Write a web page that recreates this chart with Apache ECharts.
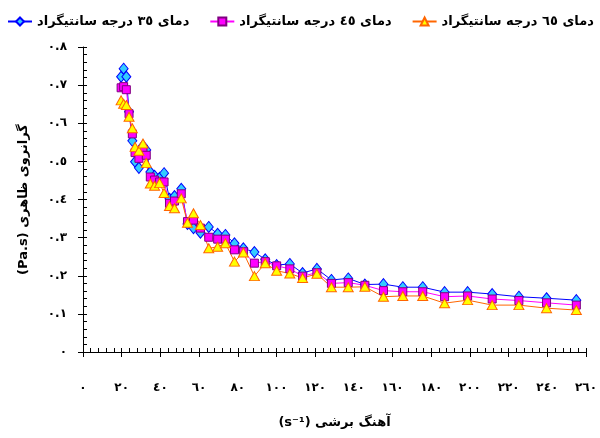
<!DOCTYPE html>
<html>
<head>
<meta charset="utf-8">
<script src="https://cdn.jsdelivr.net/npm/echarts@6/dist/echarts.min.js"></script>
<style>
  html, body { margin: 0; padding: 0; background: #fff; }
  #chart { width: 600px; height: 438px; }
</style>
</head>
<body>
<div id="chart"></div>
<script>
// shear rate (s^-1)
const shearRate = [19.7, 21.0, 22.4, 23.8, 25.5, 26.9, 28.9, 31.0, 32.7, 34.8,
  37.0, 39.6, 41.9, 44.7, 47.3, 50.8, 54.0, 57.1, 60.7, 65.0,
  69.6, 73.6, 78.3, 82.9, 88.6, 94.2, 100.1, 106.9, 113.5, 120.9,
  128.4, 137.1, 145.7, 155.3, 165.3, 175.6, 186.9, 198.8, 211.5, 225.3,
  239.6, 255.0]

// apparent viscosity (Pa.s)
const visc35 = [0.722, 0.743, 0.722, 0.630, 0.554, 0.499, 0.483, 0.541, 0.530, 0.472,
  0.462, 0.457, 0.469, 0.402, 0.409, 0.428, 0.336, 0.325, 0.313, 0.328,
  0.310, 0.307, 0.285, 0.272, 0.262, 0.243, 0.228, 0.231, 0.207, 0.218,
  0.189, 0.193, 0.177, 0.178, 0.170, 0.170, 0.157, 0.157, 0.152, 0.145,
  0.141, 0.136]
const visc45 = [0.693, 0.696, 0.688, 0.625, 0.572, 0.523, 0.508, 0.530, 0.516, 0.459,
  0.451, 0.446, 0.446, 0.390, 0.396, 0.415, 0.342, 0.346, 0.325, 0.301,
  0.296, 0.296, 0.268, 0.263, 0.233, 0.237, 0.226, 0.218, 0.199, 0.208,
  0.180, 0.182, 0.175, 0.161, 0.158, 0.158, 0.145, 0.147, 0.139, 0.135,
  0.129, 0.123]
const visc65 = [0.660, 0.651, 0.648, 0.617, 0.587, 0.538, 0.528, 0.547, 0.496, 0.442,
  0.436, 0.443, 0.417, 0.383, 0.377, 0.403, 0.339, 0.364, 0.333, 0.272,
  0.276, 0.285, 0.237, 0.261, 0.199, 0.233, 0.213, 0.206, 0.194, 0.205,
  0.170, 0.170, 0.171, 0.145, 0.147, 0.147, 0.128, 0.136, 0.123, 0.123,
  0.115, 0.110]

const seriesNames = [
  'دمای ٣٥ درجه سانتیگراد',
  'دمای ٤٥ درجه سانتیگراد',
  'دمای ٦٥ درجه سانتیگراد'
]

const FONT = 'DejaVu Sans'
const AR_DIGITS = '٠١٢٣٤٥٦٧٨٩'

// latin digits -> arabic-indic digits
function arDigits (s) {
  return String(s).replace(/[0-9]/g, d => AR_DIGITS[+d])
}

function pairs (ys) {
  return shearRate.map((x, i) => [x, ys[i]])
}

const chart = echarts.init(document.getElementById('chart'))

const labelStyle = { fontFamily: FONT, fontWeight: 'bold', fontSize: 12, color: '#000' }

const option = {
  animation: false,
  backgroundColor: '#fff',
  legend: {
    top: 10,
    left: 2,
    itemWidth: 24,
    itemHeight: 10,
    itemGap: 20,
    textStyle: { ...labelStyle, fontSize: 13 },
    data: seriesNames
  },
  grid: { left: 83, right: 13, top: 47, bottom: 86 },
  xAxis: [
    {
      type: 'value',
      min: 0,
      max: 260,
      interval: 20,
      name: '(s⁻¹) آهنگ برشی',
      nameLocation: 'middle',
      nameGap: 64,
      nameTextStyle: { fontFamily: FONT, fontWeight: 'bold', fontSize: 13, color: '#000' },
      axisLine: { lineStyle: { color: '#000', width: 1 } },
      axisTick: { inside: true, length: 4, lineStyle: { color: '#000' } },
      minorTick: { show: true, splitNumber: 5, length: 4, lineStyle: { color: '#000' } },
      splitLine: { show: false },
      axisLabel: { margin: 30, ...labelStyle, fontSize: 12, formatter: v => arDigits(v) }
    },
    {
      // outer half of the major ticks
      type: 'value',
      position: 'bottom',
      min: 0,
      max: 260,
      interval: 20,
      axisLine: { show: false },
      axisTick: { inside: false, length: 5, lineStyle: { color: '#000' } },
      axisLabel: { show: false },
      splitLine: { show: false }
    }
  ],
  yAxis: [
    {
      type: 'value',
      min: 0,
      max: 0.8,
      interval: 0.1,
      name: '(Pa.s) گرانروی ظاهری',
      nameLocation: 'middle',
      nameGap: 53,
      nameRotate: 90,
      nameTextStyle: { fontFamily: FONT, fontWeight: 'bold', fontSize: 13, color: '#000' },
      axisLine: { show: true, lineStyle: { color: '#000', width: 1 } },
      axisTick: { show: true, inside: true, length: 4, lineStyle: { color: '#000' } },
      minorTick: { show: true, splitNumber: 5, length: 4, lineStyle: { color: '#000' } },
      splitLine: { show: false },
      axisLabel: {
        margin: 16,
        ...labelStyle,
        formatter: v => v === 0 ? '٠' : arDigits(v.toFixed(1))
      }
    },
    {
      type: 'value',
      position: 'left',
      min: 0,
      max: 0.8,
      interval: 0.1,
      axisLine: { show: false },
      axisTick: { show: true, inside: false, length: 5, lineStyle: { color: '#000' } },
      axisLabel: { show: false },
      splitLine: { show: false }
    }
  ],
  series: [
    {
      name: seriesNames[0],
      type: 'line',
      data: pairs(visc35),
      symbol: 'diamond',
      symbolSize: [9, 11],
      lineStyle: { color: '#0000FF', width: 1 },
      itemStyle: { color: '#33CCFF', borderColor: '#0000FF', borderWidth: 1 }
    },
    {
      name: seriesNames[1],
      type: 'line',
      data: pairs(visc45),
      symbol: 'rect',
      symbolSize: 8,
      lineStyle: { color: '#FF00FF', width: 1 },
      itemStyle: { color: '#FF00FF', borderColor: '#800080', borderWidth: 1 }
    },
    {
      name: seriesNames[2],
      type: 'line',
      data: pairs(visc65),
      symbol: 'triangle',
      symbolSize: [10, 9],
      lineStyle: { color: '#FF6600', width: 1 },
      itemStyle: { color: '#FFFF00', borderColor: '#FF6600', borderWidth: 1 }
    }
  ]
}

chart.setOption(option)
</script>
</body>
</html>
